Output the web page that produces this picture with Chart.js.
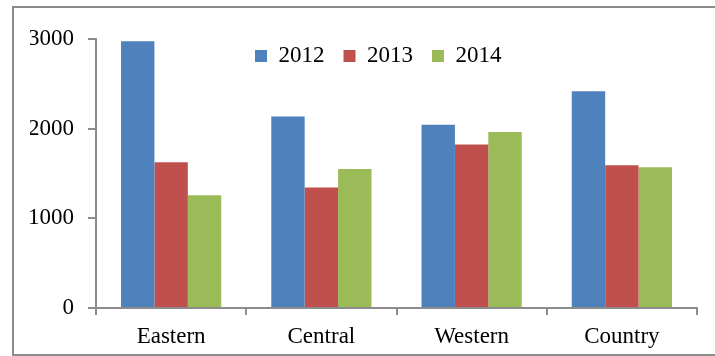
<!DOCTYPE html>
<html>
<head>
<meta charset="utf-8">
<script src="https://cdn.jsdelivr.net/npm/chart.js@4"></script>
<style>
    body { margin: 0; background: #fff; overflow: hidden; }
    #frame {
        position: absolute; left: 12px; top: 6px; width: 720px; height: 350px;
        border: 2px solid #8c8c8c; box-sizing: border-box;
    }
    #wrap { position: absolute; left: 0; top: 0; width: 715px; height: 356px; }
</style>
</head>
<body>
<div id="frame"></div>
<div id="wrap"><canvas id="chart"></canvas></div>
<script>
// --- Data ---
const regions = ['Eastern', 'Central', 'Western', 'Country'];
const years = ['2012', '2013', '2014'];
const values2012 = [2975, 2135, 2045, 2416];
const values2013 = [1626, 1344, 1823, 1592];
const values2014 = [1258, 1551, 1963, 1570];
const yTicks = [0, 1000, 2000, 3000];

const colors = ['#4F81BD', '#C0504D', '#9BBB59'];
const axisColor = '#8c8c8c';
const font = { family: '"Liberation Serif", "Times New Roman", serif', size: 23 };

// Legend drawn inside the plot area, horizontally, without taking layout space
const legendInside = {
    id: 'legendInside',
    beforeLayout(chart) {
        const lg = chart.legend;
        if (lg && !lg._inside) {
            const fit = lg.fit.bind(lg);
            lg.fit = function () { fit(); this.height = 0; };
            lg._inside = true;
        }
    },
    afterLayout(chart) {
        const lg = chart.legend;
        if (!lg) return;
        const pad = lg.options.labels.padding;
        const firstBoxX = 255;
        lg.left = 96;
        lg.right = 2 * firstBoxX + lg.lineWidths[0] - pad - lg.left;
        lg.top = 25.5;
        lg.bottom = lg.top + 62;
    }
};

new Chart(document.getElementById('chart'), {
    type: 'bar',
    data: {
        labels: regions,
        datasets: [values2012, values2013, values2014].map((vals, i) => ({
            label: years[i],
            data: vals,
            backgroundColor: colors[i],
            categoryPercentage: 0.667,
            barPercentage: 1.0
        }))
    },
    plugins: [legendInside],
    options: {
        responsive: true,
        maintainAspectRatio: false,
        animation: false,
        layout: { padding: { left: 30, right: 18, top: 39, bottom: 0 } },
        plugins: {
            legend: {
                position: 'top',
                align: 'center',
                labels: {
                    font: font,
                    color: '#000',
                    boxWidth: 12,
                    boxHeight: 12,
                    padding: 19
                }
            },
            tooltip: { enabled: false }
        },
        scales: {
            x: {
                afterFit: axis => { axis.height = 48; },
                grid: {
                    drawOnChartArea: false,
                    tickLength: 7,
                    color: axisColor,
                    lineWidth: 2
                },
                border: { color: axisColor, width: 2 },
                ticks: { font: font, color: '#000', padding: 8 }
            },
            y: {
                min: 0,
                max: 3000,
                afterBuildTicks: axis => { axis.ticks = yTicks.map(v => ({ value: v })); },
                afterFit: axis => { axis.width = 66; },
                grid: {
                    drawOnChartArea: false,
                    tickLength: 8,
                    color: axisColor,
                    lineWidth: 2
                },
                border: { color: axisColor, width: 2 },
                ticks: {
                    font: font,
                    color: '#000',
                    padding: 14,
                    callback: v => String(v)
                }
            }
        }
    }
});
</script>
</body>
</html>
